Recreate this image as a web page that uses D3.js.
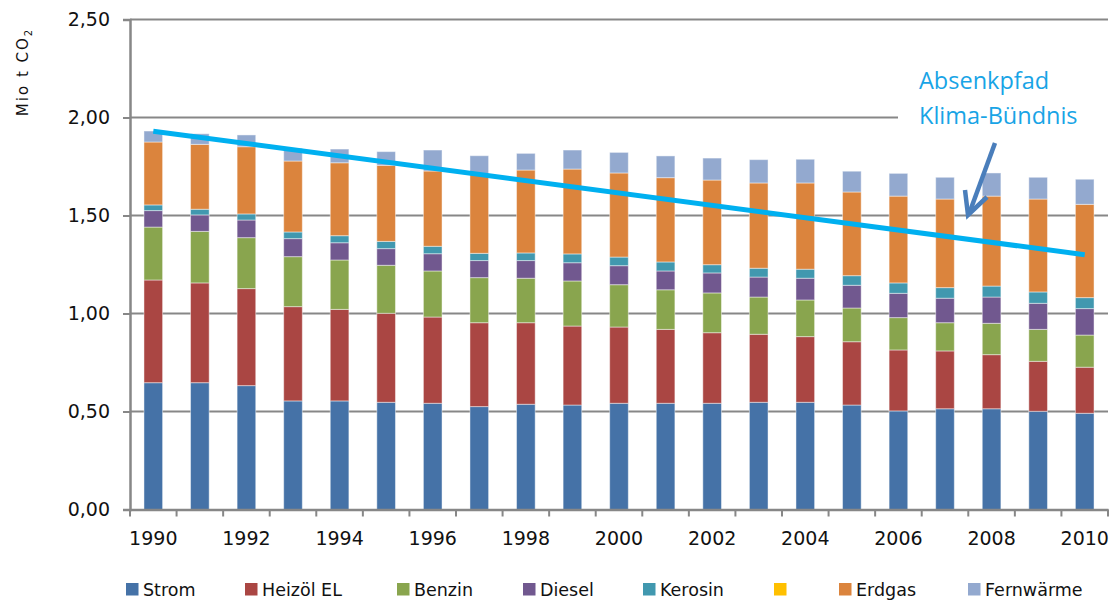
<!DOCTYPE html>
<html><head><meta charset="utf-8">
<script src="https://cdn.jsdelivr.net/npm/d3@7/dist/d3.min.js"></script>
<style>body{margin:0;background:#fff}</style>
</head><body><svg id="c" width="1114" height="601"></svg>
<script>
// ---- data ----
const years = [1990,1991,1992,1993,1994,1995,1996,1997,1998,1999,2000,2001,2002,2003,2004,2005,2006,2007,2008,2009,2010];
const seriesNames = ["Strom","Heizöl EL","Benzin","Diesel","Kerosin","","Erdgas","Fernwärme"];
const strom     = [.647,.647,.632,.554,.554,.547,.542,.525,.537,.533,.542,.542,.542,.547,.547,.533,.503,.514,.514,.501,.491];
const heizoel   = [.524,.509,.495,.481,.467,.454,.440,.428,.416,.403,.389,.377,.360,.347,.335,.323,.311,.295,.276,.255,.235];
const benzin    = [.270,.263,.260,.255,.252,.245,.235,.230,.227,.230,.216,.202,.203,.190,.187,.172,.165,.144,.160,.163,.164];
const diesel    = [.084,.084,.090,.092,.088,.085,.088,.087,.090,.093,.097,.096,.102,.102,.111,.116,.124,.125,.134,.133,.135];
const kerosin   = [.029,.029,.031,.034,.036,.037,.038,.037,.039,.045,.044,.046,.042,.045,.046,.049,.053,.054,.056,.058,.056];
const leer      = [0,0,0,0,0,0,0,0,0,0,0,0,0,0,0,0,0,0,0,0,0];
const erdgas    = [.321,.331,.343,.362,.372,.388,.384,.405,.423,.433,.429,.430,.432,.435,.440,.427,.443,.452,.459,.474,.476];
const fernwaerme= [.056,.054,.060,.065,.070,.070,.107,.093,.085,.097,.105,.111,.112,.119,.121,.106,.116,.111,.118,.111,.128];
const pathYears = [1990, 2010];
const pathValues = [1.93, 1.30];
const yTicks = [0, 0.5, 1.0, 1.5, 2.0, 2.5];
const xLabelYears = [1990,1992,1994,1996,1998,2000,2002,2004,2006,2008,2010];
const annotation = ["Absenkpfad","Klima-Bündnis"];
const yTitle = "Mio t CO";

// ---- style / layout ----
const colors = ["#4572A7","#AA4643","#89A54E","#71588F","#4198AF","#FFC000","#DB843D","#93A9CF"];
const legendX = [126,245,397,523,643,774,839,968];
const mLeft = 130, mRight = 1108, mTop = 19.5, mBottom = 509.5;
const gray = "#878787";
const font = "'DejaVu Sans', sans-serif";

const svg = d3.select("#c");
const allSeries = [strom,heizoel,benzin,diesel,kerosin,leer,erdgas,fernwaerme];
const table = years.map((yr,i) => {
  const o = {year: yr};
  allSeries.forEach((s,k) => o["s"+k] = s[i]);
  return o;
});
const keys = allSeries.map((s,k) => "s"+k);
const stacked = d3.stack().keys(keys)(table);

const x = d3.scaleBand().domain(years).range([mLeft,mRight]).paddingInner(0.6).paddingOuter(0.3);
const y = d3.scaleLinear().domain([0,2.5]).range([mBottom,mTop]);
const step = x.step();

// gridlines
svg.append("g").selectAll("line").data(yTicks.filter(d=>d>0)).join("line")
  .attr("x1", mLeft).attr("x2", mRight)
  .attr("y1", d=>y(d)).attr("y2", d=>y(d))
  .attr("stroke", gray).attr("stroke-width", 2);

// bars
svg.append("g").selectAll("g").data(stacked).join("g")
  .attr("fill", (d,i)=>colors[i])
  .selectAll("rect").data(d=>d.filter(p=>p[1]-p[0]>0)).join("rect")
  .attr("x", d=>x(d.data.year))
  .attr("width", x.bandwidth())
  .attr("y", d=>y(d[1]))
  .attr("height", d=>y(d[0])-y(d[1]))
  .attr("stroke","rgba(255,255,255,0.45)").attr("stroke-width",1);

// y axis
const yAxis = d3.axisLeft(y).tickValues(yTicks).tickSize(7).tickPadding(13)
  .tickFormat(d => d3.format(".2f")(d).replace(".", ","));
const gy = svg.append("g").attr("transform",`translate(${mLeft},0)`).call(yAxis);
gy.select(".domain").attr("stroke", gray).attr("stroke-width", 2.5);
gy.selectAll(".tick line").attr("stroke", gray).attr("stroke-width", 2);
gy.selectAll("text").attr("font-family", font).attr("font-size", 19).attr("fill","#111");

// x axis
const xAxis = d3.axisBottom(x).tickSize(0).tickPadding(0)
  .tickFormat(d => xLabelYears.includes(d) ? d : "");
const gx = svg.append("g").attr("transform",`translate(0,${mBottom})`).call(xAxis);
gx.select(".domain").attr("stroke", gray).attr("stroke-width", 2.5);
gx.selectAll("text").attr("font-family", font).attr("font-size", 19).attr("fill","#111")
  .attr("y", 35).attr("dy", 0);
const tickPos = years.map(d => x(d) - x.paddingOuter()*step).concat([mRight]);
gx.selectAll(".sep").data(tickPos).join("line").attr("class","sep")
  .attr("x1", d=>d).attr("x2", d=>d).attr("y1",0).attr("y2",7)
  .attr("stroke", gray).attr("stroke-width", 2);

// y title
const yt = svg.append("text").attr("transform","translate(28,72) rotate(-90)")
  .attr("text-anchor","middle").attr("font-family", font).attr("font-size",15)
  .attr("letter-spacing", 2).attr("fill","#111");
yt.append("tspan").text(yTitle);
yt.append("tspan").attr("font-size",10).attr("dy",4).text("2");

// annotation background
svg.append("rect").attr("x",898).attr("y",60).attr("width",mRight-898+2).attr("height",72).attr("fill","#fff");

// reduction path
const line = d3.line().x(d=>x(d[0])+x.bandwidth()/2).y(d=>y(d[1]));
svg.append("path").datum(pathYears.map((d,i)=>[d,pathValues[i]]))
  .attr("d", line).attr("fill","none").attr("stroke","#00B0F0").attr("stroke-width",5);

// annotation text
svg.append("g").selectAll("text").data(annotation).join("text")
  .attr("x", 919).attr("y",(d,i)=>89+i*35)
  .attr("font-family","'Open Sans', sans-serif").attr("font-size",23.5)
  .attr("fill","#18A4E6").text(d=>d);

// arrow
svg.append("path").attr("d","M995,143 L969,214").attr("stroke","#4A7EBB").attr("stroke-width",4.5).attr("fill","none");
svg.append("path").attr("d","M965,190 L968,215 L987,197").attr("stroke","#4A7EBB").attr("stroke-width",4.5)
  .attr("fill","none").attr("stroke-linejoin","miter");

// legend
const lg = svg.append("g").selectAll("g").data(seriesNames).join("g")
  .attr("transform",(d,i)=>`translate(${legendX[i]},583)`);
lg.append("rect").attr("width",12.5).attr("height",12.5).attr("fill",(d,i)=>colors[i]);
lg.append("text").attr("x",17).attr("y",13).attr("font-family",font).attr("font-size",17.5)
  .attr("fill","#111").text(d=>d);
</script>
</body></html>
